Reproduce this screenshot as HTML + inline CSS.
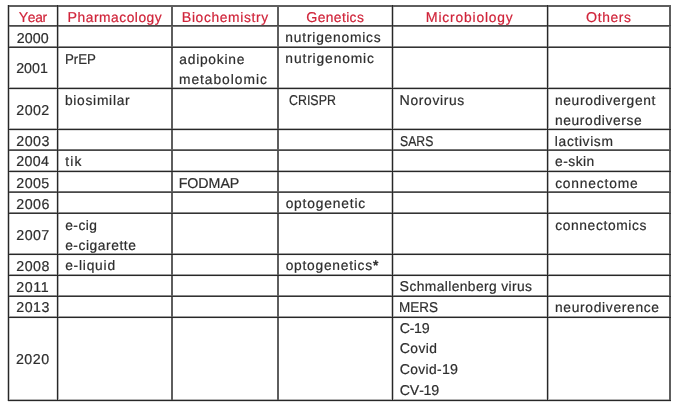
<!DOCTYPE html>
<html><head><meta charset="utf-8"><title>Neologisms by year and field</title><style>
html,body{margin:0;padding:0;background:#fff;width:679px;height:411px;overflow:hidden;}
.t{position:absolute;margin:0;font-family:"Liberation Sans",sans-serif;font-size:13.808px;line-height:20px;white-space:pre;transform-origin:0 0;color:#2e2e2e;-webkit-text-stroke:0.20px currentColor;text-rendering:geometricPrecision;}
.t .u{font-size:14.244px;}
.t .a{-webkit-text-stroke:0.6px currentColor;}
.r{color:#d0243a;}
.l{position:absolute;mix-blend-mode:darken;}
</style></head><body>

<div class="l" style="left:8px;top:5px;width:663px;height:1px;background:rgb(94,94,94)"></div>
<div class="l" style="left:8px;top:6px;width:663px;height:1px;background:rgb(94,94,94)"></div>
<div class="l" style="left:8px;top:25px;width:663px;height:1px;background:rgb(72,72,72)"></div>
<div class="l" style="left:8px;top:26px;width:663px;height:1px;background:rgb(115,115,115)"></div>
<div class="l" style="left:8px;top:46px;width:663px;height:1px;background:rgb(137,137,137)"></div>
<div class="l" style="left:8px;top:47px;width:663px;height:1px;background:rgb(51,51,51)"></div>
<div class="l" style="left:8px;top:87px;width:663px;height:1px;background:rgb(180,180,180)"></div>
<div class="l" style="left:8px;top:88px;width:663px;height:1px;background:rgb(40,40,40)"></div>
<div class="l" style="left:8px;top:89px;width:663px;height:1px;background:rgb(223,223,223)"></div>
<div class="l" style="left:8px;top:128px;width:663px;height:1px;background:rgb(180,180,180)"></div>
<div class="l" style="left:8px;top:129px;width:663px;height:1px;background:rgb(40,40,40)"></div>
<div class="l" style="left:8px;top:130px;width:663px;height:1px;background:rgb(223,223,223)"></div>
<div class="l" style="left:8px;top:149px;width:663px;height:1px;background:rgb(115,115,115)"></div>
<div class="l" style="left:8px;top:150px;width:663px;height:1px;background:rgb(72,72,72)"></div>
<div class="l" style="left:8px;top:170px;width:663px;height:1px;background:rgb(180,180,180)"></div>
<div class="l" style="left:8px;top:171px;width:663px;height:1px;background:rgb(40,40,40)"></div>
<div class="l" style="left:8px;top:172px;width:663px;height:1px;background:rgb(223,223,223)"></div>
<div class="l" style="left:8px;top:191px;width:663px;height:1px;background:rgb(115,115,115)"></div>
<div class="l" style="left:8px;top:192px;width:663px;height:1px;background:rgb(72,72,72)"></div>
<div class="l" style="left:8px;top:212px;width:663px;height:1px;background:rgb(137,137,137)"></div>
<div class="l" style="left:8px;top:213px;width:663px;height:1px;background:rgb(51,51,51)"></div>
<div class="l" style="left:8px;top:253px;width:663px;height:1px;background:rgb(158,158,158)"></div>
<div class="l" style="left:8px;top:254px;width:663px;height:1px;background:rgb(40,40,40)"></div>
<div class="l" style="left:8px;top:255px;width:663px;height:1px;background:rgb(244,244,244)"></div>
<div class="l" style="left:8px;top:274px;width:663px;height:1px;background:rgb(158,158,158)"></div>
<div class="l" style="left:8px;top:275px;width:663px;height:1px;background:rgb(40,40,40)"></div>
<div class="l" style="left:8px;top:276px;width:663px;height:1px;background:rgb(244,244,244)"></div>
<div class="l" style="left:8px;top:295px;width:663px;height:1px;background:rgb(137,137,137)"></div>
<div class="l" style="left:8px;top:296px;width:663px;height:1px;background:rgb(51,51,51)"></div>
<div class="l" style="left:8px;top:316px;width:663px;height:1px;background:rgb(158,158,158)"></div>
<div class="l" style="left:8px;top:317px;width:663px;height:1px;background:rgb(40,40,40)"></div>
<div class="l" style="left:8px;top:318px;width:663px;height:1px;background:rgb(244,244,244)"></div>
<div class="l" style="left:8px;top:399px;width:663px;height:1px;background:rgb(180,180,180)"></div>
<div class="l" style="left:8px;top:400px;width:663px;height:1px;background:rgb(40,40,40)"></div>
<div class="l" style="left:8px;top:401px;width:663px;height:1px;background:rgb(223,223,223)"></div>
<div class="l" style="left:7px;top:5px;width:1px;height:396px;background:rgb(201,201,201)"></div>
<div class="l" style="left:8px;top:5px;width:1px;height:396px;background:rgb(40,40,40)"></div>
<div class="l" style="left:9px;top:5px;width:1px;height:396px;background:rgb(201,201,201)"></div>
<div class="l" style="left:56px;top:5px;width:1px;height:396px;background:rgb(223,223,223)"></div>
<div class="l" style="left:57px;top:5px;width:1px;height:396px;background:rgb(40,40,40)"></div>
<div class="l" style="left:58px;top:5px;width:1px;height:396px;background:rgb(180,180,180)"></div>
<div class="l" style="left:171px;top:5px;width:1px;height:396px;background:rgb(94,94,94)"></div>
<div class="l" style="left:172px;top:5px;width:1px;height:396px;background:rgb(94,94,94)"></div>
<div class="l" style="left:277px;top:5px;width:1px;height:396px;background:rgb(94,94,94)"></div>
<div class="l" style="left:278px;top:5px;width:1px;height:396px;background:rgb(94,94,94)"></div>
<div class="l" style="left:391px;top:5px;width:1px;height:396px;background:rgb(201,201,201)"></div>
<div class="l" style="left:392px;top:5px;width:1px;height:396px;background:rgb(40,40,40)"></div>
<div class="l" style="left:393px;top:5px;width:1px;height:396px;background:rgb(201,201,201)"></div>
<div class="l" style="left:546px;top:5px;width:1px;height:396px;background:rgb(223,223,223)"></div>
<div class="l" style="left:547px;top:5px;width:1px;height:396px;background:rgb(40,40,40)"></div>
<div class="l" style="left:548px;top:5px;width:1px;height:396px;background:rgb(180,180,180)"></div>
<div class="l" style="left:669px;top:5px;width:1px;height:396px;background:rgb(94,94,94)"></div>
<div class="l" style="left:670px;top:5px;width:1px;height:396px;background:rgb(94,94,94)"></div>
<p class="t r" style="left:18.64px;top:8.00px;letter-spacing:-0.325px"><span class="u">Y</span>ear</p>
<p class="t r" style="left:67.62px;top:8.00px;letter-spacing:0.505px"><span class="u">P</span>harmacology</p>
<p class="t r" style="left:181.76px;top:8.00px;letter-spacing:0.640px"><span class="u">B</span>iochemistry</p>
<p class="t r" style="left:306.20px;top:8.00px;letter-spacing:0.404px"><span class="u">G</span>enetics</p>
<p class="t r" style="left:425.76px;top:8.00px;letter-spacing:0.830px"><span class="u">M</span>icrobiology</p>
<p class="t r" style="left:586.07px;top:8.00px;letter-spacing:0.637px"><span class="u">O</span>thers</p>
<p class="t" style="left:16.66px;top:29.00px;letter-spacing:0.087px"><span class="u">2000</span></p>
<p class="t" style="left:16.14px;top:59.00px;letter-spacing:0.070px"><span class="u">2001</span></p>
<p class="t" style="left:16.33px;top:101.00px;letter-spacing:0.397px"><span class="u">2002</span></p>
<p class="t" style="left:16.33px;top:132.00px;letter-spacing:0.440px"><span class="u">2003</span></p>
<p class="t" style="left:16.33px;top:152.00px;letter-spacing:0.308px"><span class="u">2004</span></p>
<p class="t" style="left:16.33px;top:174.00px;letter-spacing:0.416px"><span class="u">2005</span></p>
<p class="t" style="left:16.33px;top:195.00px;letter-spacing:0.438px"><span class="u">2006</span></p>
<p class="t" style="left:16.33px;top:226.00px;letter-spacing:0.419px"><span class="u">2007</span></p>
<p class="t" style="left:16.33px;top:257.00px;letter-spacing:0.439px"><span class="u">2008</span></p>
<p class="t" style="left:16.14px;top:278.00px;letter-spacing:0.682px"><span class="u">2011</span></p>
<p class="t" style="left:16.33px;top:298.00px;letter-spacing:0.440px"><span class="u">2013</span></p>
<p class="t" style="left:15.96px;top:350.00px;letter-spacing:0.492px"><span class="u">2020</span></p>
<p class="t" style="left:64.66px;top:50.00px;transform:scaleX(0.9338)"><span class="u">P</span>r<span class="u">EP</span></p>
<p class="t" style="left:64.93px;top:91.00px;letter-spacing:0.722px">biosimilar</p>
<p class="t" style="left:65.31px;top:152.00px;letter-spacing:1.102px">tik</p>
<p class="t" style="left:65.14px;top:216.00px;letter-spacing:0.494px">e-cig</p>
<p class="t" style="left:65.14px;top:236.00px;letter-spacing:0.555px">e-cigarette</p>
<p class="t" style="left:65.14px;top:256.00px;letter-spacing:0.785px">e-liquid</p>
<p class="t" style="left:179.31px;top:50.00px;letter-spacing:0.747px">adipokine</p>
<p class="t" style="left:178.95px;top:70.00px;letter-spacing:0.967px">metabolomic</p>
<p class="t" style="left:178.67px;top:174.00px;letter-spacing:-0.040px"><span class="u">FODMAP</span></p>
<p class="t" style="left:285.36px;top:28.00px;letter-spacing:0.787px">nutrigenomics</p>
<p class="t" style="left:285.36px;top:49.00px;letter-spacing:0.871px">nutrigenomic</p>
<p class="t" style="left:288.92px;top:91.00px;transform:scaleX(0.8717)"><span class="u">CRISPR</span></p>
<p class="t" style="left:285.63px;top:194.00px;letter-spacing:0.822px">optogenetic</p>
<p class="t" style="left:285.63px;top:256.00px;letter-spacing:0.750px">optogenetics<span class="a">*</span></p>
<p class="t" style="left:399.53px;top:91.00px;letter-spacing:0.672px"><span class="u">N</span>orovirus</p>
<p class="t" style="left:399.72px;top:132.00px;transform:scaleX(0.8587)"><span class="u">SARS</span></p>
<p class="t" style="left:399.56px;top:277.00px;letter-spacing:0.397px"><span class="u">S</span>chmallenberg virus</p>
<p class="t" style="left:399.25px;top:298.00px;transform:scaleX(0.9478)"><span class="u">MERS</span></p>
<p class="t" style="left:399.70px;top:319.00px;letter-spacing:-0.246px"><span class="u">C</span>-<span class="u">19</span></p>
<p class="t" style="left:399.70px;top:339.00px;letter-spacing:0.378px"><span class="u">C</span>ovid</p>
<p class="t" style="left:399.70px;top:360.00px;letter-spacing:0.331px"><span class="u">C</span>ovid-<span class="u">19</span></p>
<p class="t" style="left:399.70px;top:381.00px;letter-spacing:-0.159px"><span class="u">CV</span>-<span class="u">19</span></p>
<p class="t" style="left:554.95px;top:91.00px;letter-spacing:0.647px">neurodivergent</p>
<p class="t" style="left:554.95px;top:111.00px;letter-spacing:0.631px">neurodiverse</p>
<p class="t" style="left:554.87px;top:132.00px;letter-spacing:0.640px">lactivism</p>
<p class="t" style="left:555.09px;top:152.00px;letter-spacing:0.475px">e-skin</p>
<p class="t" style="left:555.16px;top:174.00px;letter-spacing:0.811px">connectome</p>
<p class="t" style="left:555.16px;top:216.00px;letter-spacing:0.629px">connectomics</p>
<p class="t" style="left:554.95px;top:298.00px;letter-spacing:0.691px">neurodiverence</p>
</body></html>
